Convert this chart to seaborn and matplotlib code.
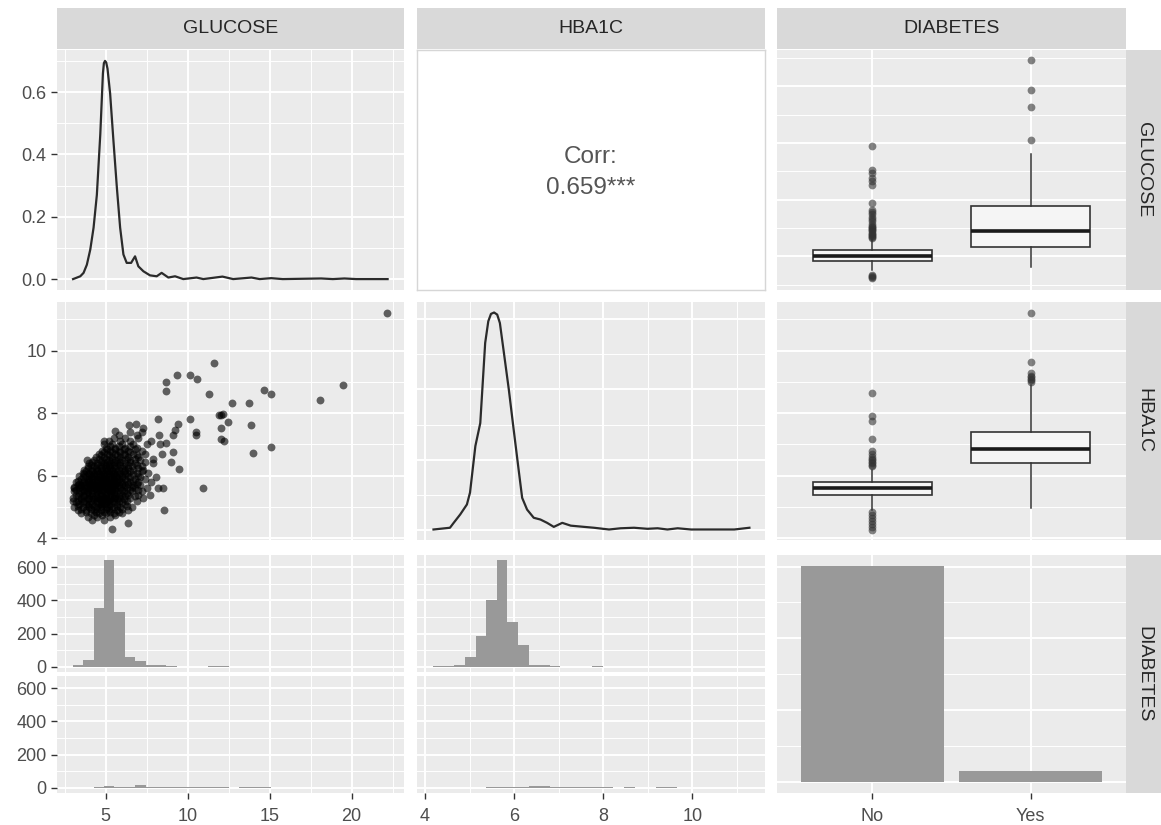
import numpy as np
import pandas as pd
import matplotlib
matplotlib.use("Agg")
import matplotlib.pyplot as plt
import seaborn as sns
from matplotlib.ticker import FixedLocator

# ---------------- data ----------------
VARS = ["GLUCOSE", "HBA1C", "DIABETES"]
DIAB_CATS = ["No", "Yes"]
DIAB_COUNTS = [1505, 76]

CORR_TEXT = "Corr:\n0.659***"

# density of GLUCOSE (diagonal 1)
GLU_DENS_X = [3.02, 3.46, 3.66, 3.86, 4.07, 4.27, 4.47, 4.68, 4.84, 4.90, 4.97, 5.04, 5.12,
              5.28, 5.48, 5.69, 5.89, 6.09, 6.29, 6.56, 6.80, 7.00, 7.31, 7.71, 8.12, 8.42,
              8.83, 9.24, 9.74, 10.55, 10.96, 12.13, 12.78, 13.9, 14.4, 15.1, 15.8,
              18.15, 18.86, 19.57, 20.28, 22.2]
GLU_DENS_Y = [0.0, 0.009, 0.02, 0.046, 0.095, 0.165, 0.27, 0.465, 0.66, 0.693, 0.70, 0.695, 0.675,
              0.595, 0.445, 0.294, 0.165, 0.079, 0.052, 0.052, 0.073, 0.041, 0.025, 0.012, 0.009, 0.02,
              0.005, 0.009, 0.0, 0.005, 0.0, 0.008, 0.0, 0.005, 0.0, 0.003, 0.0,
              0.002, 0.0, 0.002, 0.0, 0.0]

# density of HBA1C (diagonal 2)
HBA_DENS_X = [4.19, 4.56, 4.64, 4.79, 4.94, 5.01, 5.13, 5.24, 5.35, 5.42, 5.48, 5.55, 5.62, 5.68,
              5.76, 5.88, 5.99, 6.10, 6.18, 6.29, 6.44, 6.59, 6.74, 6.89, 7.08, 7.27,
              7.57, 7.79, 8.13, 8.39, 8.69, 8.99, 9.22, 9.44, 9.67, 9.97, 10.94, 11.28]
HBA_DENS_Y = [0.0, 0.01, 0.037, 0.086, 0.143, 0.211, 0.477, 0.608, 1.066, 1.19, 1.232, 1.24, 1.228, 1.18,
              1.029, 0.801, 0.570, 0.343, 0.181, 0.114, 0.067, 0.057, 0.038, 0.015, 0.038, 0.022,
              0.015, 0.01, 0.0, 0.007, 0.01, 0.004, 0.007, 0.0, 0.007, 0.0, 0.0, 0.01]

# histograms of GLUCOSE / HBA1C split by DIABETES
GLU_BIN_START = 3.0
GLU_BIN_WIDTH = 0.635
GLU_HIST_NO = [8, 40, 356, 642, 329, 57, 36, 10, 10, 2, 1, 0, 1, 2, 2, 0, 0, 0, 1, 0,
               0, 0, 0, 0, 0, 0, 0, 0, 0, 0, 0]
GLU_HIST_YES = [0, 1, 2, 8, 5, 5, 14, 4, 7, 7, 3, 6, 2, 2, 3, 1, 2, 2, 2, 1,
                0, 0, 0, 1, 0, 1, 0, 0, 0, 0, 1]
HBA_BIN_START = 4.181
HBA_BIN_WIDTH = 0.238
HBA_HIST_NO = [2, 3, 8, 61, 186, 400, 642, 267, 131, 8, 8, 3, 1, 0, 1, 2, 0, 0, 1, 0,
               0, 0, 0, 0, 0, 0, 0, 0, 0, 0]
HBA_HIST_YES = [0, 0, 0, 1, 0, 2, 2, 3, 5, 10, 11, 7, 6, 5, 5, 2, 2, 1, 2, 1,
                1, 3, 2, 0, 0, 0, 0, 0, 0, 1]

# boxplot summaries (No, Yes)
GLU_BOX_Q1 = [4.63, 5.87]
GLU_BOX_MED = [5.05, 7.20]
GLU_BOX_Q3 = [5.58, 9.47]
GLU_BOX_LO = [3.81, 4.05]
GLU_BOX_HI = [6.50, 14.04]
GLU_FLIERS_NO = [3.07, 3.2, 3.3, 3.37, 6.6, 6.7, 6.8, 6.9, 7.0, 7.1, 7.2, 7.3, 7.4, 7.5,
                 7.6, 7.7, 7.9, 8.1, 8.3, 8.5, 8.7, 8.9, 9.1, 9.7, 11.32, 11.62, 11.9,
                 12.36, 12.65, 14.77]
GLU_FLIERS_YES = [15.3, 18.19, 19.66, 22.31]

HBA_BOX_Q1 = [5.39, 6.42]
HBA_BOX_MED = [5.60, 6.84]
HBA_BOX_Q3 = [5.81, 7.41]
HBA_BOX_LO = [4.91, 4.97]
HBA_BOX_HI = [6.18, 8.90]
HBA_FLIERS_NO = [4.28, 4.35, 4.45, 4.55, 4.65, 4.75, 4.85, 6.3, 6.35, 6.4, 6.45, 6.5,
                 6.55, 6.6, 6.7, 6.8, 7.16, 7.76, 7.92, 8.66]
HBA_FLIERS_YES = [9.0, 9.05, 9.1, 9.15, 9.2, 9.29, 9.63, 11.19]

# scatter GLUCOSE (x) vs HBA1C (y): isolated points
SCATTER_OUTLIERS = [
    (22.17, 11.19), (11.6, 9.61), (9.35, 9.22), (10.12, 9.22), (10.59, 9.1), (8.71, 9.0),
    (8.71, 8.71), (11.28, 8.6), (14.68, 8.75), (15.08, 8.6), (19.5, 8.9), (18.06, 8.42),
    (12.72, 8.31), (13.72, 8.31), (12.05, 7.94), (12.19, 7.97), (11.94, 7.93), (12.45, 7.73),
    (13.87, 7.63), (12.05, 7.52), (12.05, 7.18), (12.2, 7.1), (10.49, 7.41), (10.49, 7.3),
    (10.16, 7.82), (13.97, 6.73), (15.08, 6.92), (10.97, 5.62), (8.2, 7.82), (9.41, 7.64),
    (9.21, 7.45), (9.11, 7.29), (8.71, 7.06), (9.11, 6.76), (9.01, 6.45), (9.51, 6.23),
    (8.56, 4.92), (6.34, 4.49), (5.4, 4.31), (5.57, 7.43), (6.43, 7.63), (6.83, 7.65),
    (7.28, 7.52), (6.89, 7.29), (8.28, 7.3), (8.32, 7.03), (8.46, 6.71), (7.79, 7.1),
    (7.89, 6.54), (8.5, 5.62), (8.1, 5.97), (5.2, 7.1), (3.88, 6.5),
]
# scatter: the dense cluster, row by row (HBA1C level, glucose values)
SCATTER_CLUSTER = [
    (4.6, [4.2, 4.9]),
    (4.7, [3.9, 4.5, 5.3]),
    (4.75, [4.3, 4.8, 5.6]),
    (4.8, [3.5, 4.1, 4.6, 5.0, 5.5, 6.0]),
    (4.85, [3.8, 4.4, 4.9, 5.3, 5.8]),
    (4.9, [3.3, 3.8, 4.3, 4.7, 5.2, 5.7, 6.4]),
    (4.95, [3.5, 4.1, 4.5, 5.0, 5.4, 6.0]),
    (5.0, [3.1, 3.6, 4.0, 4.4, 4.8, 5.1, 5.5, 5.9, 6.6]),
    (5.05, [3.3, 3.9, 4.3, 4.7, 5.2, 5.7, 6.3]),
    (5.1, [3.4, 3.8, 4.0, 4.2, 4.6, 4.7, 4.9, 5.0, 5.3, 5.7, 6.2]),
    (5.15, [3.2, 3.6, 4.4, 4.8, 5.2, 5.5, 6.0]),
    (5.2, [3.0, 3.3, 3.7, 4.1, 4.5, 4.8, 5.1, 5.4, 5.8, 6.3, 6.9]),
    (5.25, [3.5, 3.9, 4.3, 4.7, 5.0, 5.3, 5.7, 6.1]),
    (5.3, [3.0, 3.5, 3.9, 4.0, 4.3, 4.5, 4.6, 4.9, 5.0, 5.2, 5.5, 5.6, 5.9, 6.5, 7.3]),
    (5.35, [3.3, 3.7, 4.2, 4.8, 5.4, 5.8, 6.2, 6.8]),
    (5.4, [3.2, 3.6, 4.0, 4.4, 4.7, 5.0, 5.3, 5.6, 6.0, 6.4, 7.0, 7.7]),
    (5.45, [3.4, 3.8, 4.2, 4.6, 5.0, 5.5, 5.9, 6.3]),
    (5.5, [3.1, 3.5, 3.7, 3.9, 4.2, 4.4, 4.5, 4.8, 4.9, 5.1, 5.3, 5.4, 5.7, 6.1, 6.6, 7.2]),
    (5.55, [3.2, 3.6, 4.0, 4.6, 5.2, 5.6, 6.0, 6.5, 7.0]),
    (5.6, [3.05, 3.4, 3.8, 4.1, 4.4, 4.7, 5.0, 5.3, 5.6, 5.9, 6.3, 6.8, 7.5, 8.2]),
    (5.65, [3.1, 3.5, 3.9, 4.2, 4.5, 4.8, 5.1, 5.4, 5.7, 6.1, 6.6]),
    (5.7, [3.3, 3.5, 3.7, 4.0, 4.3, 4.4, 4.6, 4.8, 4.9, 5.2, 5.4, 5.5, 5.8, 6.2, 6.7, 7.1]),
    (5.75, [3.4, 3.8, 4.1, 4.7, 5.0, 5.3, 5.6, 6.0, 6.4, 6.9]),
    (5.8, [3.2, 3.6, 3.9, 4.2, 4.5, 4.8, 5.1, 5.4, 5.7, 6.0, 6.5, 7.0, 7.8]),
    (5.85, [3.3, 3.7, 4.0, 4.4, 4.7, 5.0, 5.3, 5.6, 5.9, 6.3, 6.7]),
    (5.9, [3.5, 3.9, 4.0, 4.3, 4.5, 4.6, 4.9, 5.0, 5.2, 5.5, 5.8, 6.2, 6.8, 7.4]),
    (5.95, [3.6, 4.2, 4.8, 5.4, 5.7, 6.0, 6.5, 7.1]),
    (6.0, [3.4, 3.8, 4.1, 4.4, 4.7, 5.0, 5.3, 5.6, 6.0, 6.4, 7.0]),
    (6.05, [3.7, 4.0, 4.3, 4.6, 4.9, 5.2, 5.5, 5.8, 6.2, 6.7]),
    (6.1, [3.6, 4.0, 4.3, 4.6, 4.9, 5.2, 5.5, 5.9, 6.3, 6.9, 7.6]),
    (6.15, [3.8, 4.2, 4.5, 4.8, 5.1, 5.4, 5.7, 6.1, 6.5, 7.2]),
    (6.2, [3.7, 4.1, 4.5, 4.8, 5.1, 5.4, 5.8, 6.2, 6.7, 7.3]),
    (6.25, [3.9, 4.4, 4.7, 5.0, 5.3, 5.6, 6.0, 6.4, 7.0]),
    (6.3, [3.9, 4.3, 4.7, 5.0, 5.3, 5.7, 6.1, 6.6, 7.2]),
    (6.35, [4.1, 4.5, 4.9, 5.2, 5.5, 5.9, 6.4, 6.9]),
    (6.4, [4.0, 4.5, 4.9, 5.3, 5.7, 6.2, 6.8, 7.9]),
    (6.45, [4.2, 4.7, 5.1, 5.5, 5.9, 6.5, 7.4]),
    (6.5, [4.3, 4.8, 5.2, 5.6, 6.0, 6.5, 7.1]),
    (6.55, [4.6, 5.0, 5.4, 5.8, 6.3, 6.8]),
    (6.6, [4.4, 4.9, 5.4, 5.9, 6.4, 7.0]),
    (6.65, [4.7, 5.2, 5.7, 6.2, 6.9]),
    (6.7, [4.6, 5.1, 5.6, 6.1, 6.7, 7.4]),
    (6.75, [4.9, 5.4, 5.9, 6.5]),
    (6.8, [4.8, 5.3, 5.8, 6.4, 7.2]),
    (6.85, [5.1, 5.6, 6.1, 6.8]),
    (6.9, [5.0, 5.6, 6.2, 6.9]),
    (6.95, [5.3, 5.8, 6.5]),
    (7.0, [4.9, 5.4, 6.0, 6.7, 7.5]),
    (7.1, [4.9, 5.9, 6.5]),
    (7.2, [5.5, 6.2, 7.0]),
    (7.3, [5.8]),
    (7.4, [6.5, 7.2]),
]

# ---------------- style ----------------
plt.rcParams["font.family"] = ["Liberation Sans", "DejaVu Sans"]
PANEL_BG = "#EBEBEB"
STRIP_BG = "#D9D9D9"
TICK_LABEL_COLOR = "#4D4D4D"
FS = 13
STRIP_FS = 14

W, H = 1161, 825
fig = plt.figure(figsize=(W / 100, H / 100), dpi=100)
fig.patch.set_facecolor("white")


def add_ax(x0, y0, x1, y1):
    return fig.add_axes([x0 / W, 1 - y1 / H, (x1 - x0) / W, (y1 - y0) / H])


def gg_panel(ax, xlim, ylim, xmaj, xmin, ymaj, ymin, xlabels=None, ylabels=None):
    ax.set_facecolor(PANEL_BG)
    for s in ax.spines.values():
        s.set_visible(False)
    ax.set_xlim(xlim)
    ax.set_ylim(ylim)
    ax.xaxis.set_major_locator(FixedLocator(xmaj))
    ax.xaxis.set_minor_locator(FixedLocator(xmin))
    ax.yaxis.set_major_locator(FixedLocator(ymaj))
    ax.yaxis.set_minor_locator(FixedLocator(ymin))
    ax.set_axisbelow(True)
    ax.grid(which="major", color="white", lw=1.4)
    ax.grid(which="minor", color="white", lw=0.7)
    ax.tick_params(which="minor", length=0, bottom=False, left=False)
    ax.tick_params(which="major", length=4.5, width=1.0, color="#333333",
                   labelsize=FS, labelcolor=TICK_LABEL_COLOR, pad=3)
    show_x = xlabels is not None
    show_y = ylabels is not None
    ax.tick_params(axis="x", which="major", bottom=show_x, labelbottom=show_x, pad=6)
    ax.tick_params(axis="y", which="major", left=show_y, labelleft=show_y)
    if show_x:
        ax.set_xticklabels(xlabels)
    if show_y:
        ax.set_yticklabels(ylabels)
    ax.set_xlabel("")
    ax.set_ylabel("")
    if ax.get_legend() is not None:
        ax.get_legend().remove()


def strip(x0, y0, x1, y1, text, rot=0):
    ax = add_ax(x0, y0, x1, y1)
    ax.set_facecolor(STRIP_BG)
    ax.set_xticks([])
    ax.set_yticks([])
    for s in ax.spines.values():
        s.set_visible(False)
    ax.text(0.5, 0.5, text, rotation=rot, ha="center", va="center",
            transform=ax.transAxes, fontsize=STRIP_FS, color="#262626")


# layout in pixels
COLS = [(57, 404), (417, 765), (777, 1126)]
R1 = (50, 290)
R2 = (302, 540)
R3 = (555, 793)
R3_UP = (555, 672)
R3_LO = (676, 793)

GLU_LIM = (2.04, 23.2)
HBA_XLIM = (3.82, 11.63)
HBA_YLIM = (3.95, 11.55)
CAT_LIM = (-0.6, 1.6)

GLU_MAJ, GLU_MIN = [5, 10, 15, 20], [2.5, 7.5, 12.5, 17.5, 22.5]
HBA_MAJ, HBA_MIN = [4, 6, 8, 10], [5, 7, 9, 11]
CNT_MAJ, CNT_MIN = [0, 200, 400, 600], [100, 300, 500]

LINE_COLOR = "#2B2B2B"

# ---- strips ----
for (x0, x1), name in zip(COLS, VARS):
    strip(x0, 8, x1, 49, name)
for (y0, y1), name in zip([R1, R2, R3], VARS):
    strip(1126, y0, 1161, y1, name, rot=270)

# ---- row 1 ----
ax = add_ax(COLS[0][0], R1[0], COLS[0][1], R1[1])
sns.lineplot(x=GLU_DENS_X, y=GLU_DENS_Y, ax=ax, color=LINE_COLOR, lw=1.6,
             sort=False, estimator=None)
gg_panel(ax, GLU_LIM, (-0.035, 0.735), GLU_MAJ, GLU_MIN,
         [0.0, 0.2, 0.4, 0.6], [0.1, 0.3, 0.5, 0.7],
         ylabels=["0.0", "0.2", "0.4", "0.6"])

ax = add_ax(COLS[1][0], R1[0], COLS[1][1], R1[1])
ax.set_facecolor("white")
ax.set_xticks([])
ax.set_yticks([])
for s in ax.spines.values():
    s.set_color("#D6D6D6")
    s.set_linewidth(1.0)
ax.text(0.5, 0.49, CORR_TEXT, ha="center", va="center", transform=ax.transAxes,
        fontsize=17.5, color="#555555", linespacing=1.55)


def draw_box(ax, q1, med, q3, lo, hi, fliers):
    stats = []
    for i, cat in enumerate(DIAB_CATS):
        stats.append(dict(med=med[i], q1=q1[i], q3=q3[i], whislo=lo[i], whishi=hi[i],
                          fliers=np.array(fliers[i]), label=cat))
    ax.bxp(stats, positions=[0, 1], widths=0.75, patch_artist=True, showcaps=False,
           boxprops=dict(facecolor="#F5F5F5", edgecolor="#333333", linewidth=1.2),
           medianprops=dict(color="#1A1A1A", linewidth=2.6),
           whiskerprops=dict(color="#333333", linewidth=1.1),
           flierprops=dict(marker="o", markerfacecolor="#333333", markeredgecolor="none",
                           alpha=0.6, markersize=5.6))


ax = add_ax(COLS[2][0], R1[0], COLS[2][1], R1[1])
draw_box(ax, GLU_BOX_Q1, GLU_BOX_MED, GLU_BOX_Q3, GLU_BOX_LO, GLU_BOX_HI,
         [GLU_FLIERS_NO, GLU_FLIERS_YES])
gg_panel(ax, CAT_LIM, GLU_LIM, [0, 1], [], GLU_MAJ, GLU_MIN)

# ---- row 2 ----
sc_x = [p[0] for p in SCATTER_OUTLIERS]
sc_y = [p[1] for p in SCATTER_OUTLIERS]
for yv, xs in SCATTER_CLUSTER:
    sc_x.extend(xs)
    sc_y.extend([yv] * len(xs))
scatter_df = pd.DataFrame({"GLUCOSE": sc_x, "HBA1C": sc_y})

ax = add_ax(COLS[0][0], R2[0], COLS[0][1], R2[1])
sns.scatterplot(data=scatter_df, x="GLUCOSE", y="HBA1C", ax=ax, color="black",
                alpha=0.6, s=32, linewidth=0)
gg_panel(ax, GLU_LIM, HBA_YLIM, GLU_MAJ, GLU_MIN, HBA_MAJ, HBA_MIN,
         ylabels=["4", "6", "8", "10"])

ax = add_ax(COLS[1][0], R2[0], COLS[1][1], R2[1])
sns.lineplot(x=HBA_DENS_X, y=HBA_DENS_Y, ax=ax, color=LINE_COLOR, lw=1.6,
             sort=False, estimator=None)
gg_panel(ax, HBA_XLIM, (-0.06, 1.30), HBA_MAJ, HBA_MIN,
         [0.0, 0.4, 0.8, 1.2], [0.2, 0.6, 1.0])

ax = add_ax(COLS[2][0], R2[0], COLS[2][1], R2[1])
draw_box(ax, HBA_BOX_Q1, HBA_BOX_MED, HBA_BOX_Q3, HBA_BOX_LO, HBA_BOX_HI,
         [HBA_FLIERS_NO, HBA_FLIERS_YES])
gg_panel(ax, CAT_LIM, HBA_YLIM, [0, 1], [], HBA_MAJ, HBA_MIN)

# ---- row 3 ----
HIST_YLIM = (-32, 674)


def draw_hist(ax, start, width, counts):
    n = len(counts)
    edges = [start + i * width for i in range(n + 1)]
    centers = [start + (i + 0.5) * width for i in range(n)]
    sns.histplot(x=centers, weights=counts, bins=edges, ax=ax, color="#999999",
                 alpha=1.0, linewidth=0, edgecolor="none")


for (y0, y1), glu_c, hba_c, last in [(R3_UP, GLU_HIST_NO, HBA_HIST_NO, False),
                                      (R3_LO, GLU_HIST_YES, HBA_HIST_YES, True)]:
    ax = add_ax(COLS[0][0], y0, COLS[0][1], y1)
    draw_hist(ax, GLU_BIN_START, GLU_BIN_WIDTH, glu_c)
    gg_panel(ax, GLU_LIM, HIST_YLIM, GLU_MAJ, GLU_MIN, CNT_MAJ, CNT_MIN,
             xlabels=["5", "10", "15", "20"] if last else None,
             ylabels=["0", "200", "400", "600"])

    ax = add_ax(COLS[1][0], y0, COLS[1][1], y1)
    draw_hist(ax, HBA_BIN_START, HBA_BIN_WIDTH, hba_c)
    gg_panel(ax, HBA_XLIM, HIST_YLIM, HBA_MAJ, HBA_MIN, CNT_MAJ, CNT_MIN,
             xlabels=["4", "6", "8", "10"] if last else None)

ax = add_ax(COLS[2][0], R3[0], COLS[2][1], R3[1])
bar_df = pd.DataFrame({"DIABETES": DIAB_CATS, "count": DIAB_COUNTS})
sns.barplot(data=bar_df, x="DIABETES", y="count", ax=ax, color="#999999",
            saturation=1, width=0.9)
top = max(DIAB_COUNTS)
gg_panel(ax, CAT_LIM, (-0.05 * top, 1.05 * top), [0, 1], [],
         [0, 500, 1000, 1500], [250, 750, 1250], xlabels=DIAB_CATS)

fig.savefig("out.png", dpi=100, facecolor="white")
